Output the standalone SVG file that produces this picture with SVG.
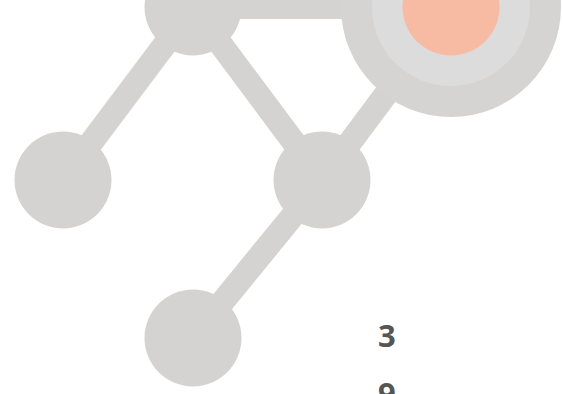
<svg xmlns="http://www.w3.org/2000/svg" width="563" height="394" viewBox="0 0 563 394">
<style>
.edge{stroke:#d4d3d2;stroke-width:24;fill:none}
.node{fill:#d4d3d2}
.lbl{font-family:"Open Sans","Liberation Sans",sans-serif;font-weight:700;font-size:31px;fill:#555555}
</style>
<rect width="563" height="394" fill="#ffffff"/>
<g id="connectors">
<line class="edge" x1="193" y1="7" x2="451" y2="7"/>
<line class="edge" x1="63" y1="180" x2="193" y2="7"/>
<line class="edge" x1="193" y1="7" x2="322" y2="180"/>
<line class="edge" x1="322" y1="180" x2="451" y2="7"/>
<line class="edge" x1="322" y1="180" x2="193" y2="338"/>
</g>
<g id="node-hub">
<circle cx="451" cy="7" r="110" fill="#d5d4d3"/>
<circle cx="451" cy="7" r="79" fill="#dcdcdc"/>
<circle cx="451" cy="7" r="48.5" fill="#f7bba4"/>
</g>
<g id="node-top"><circle class="node" cx="193" cy="7" r="48.5"/></g>
<g id="node-left"><circle class="node" cx="63" cy="180" r="48.5"/></g>
<g id="node-middle"><circle class="node" cx="322" cy="180" r="48.5"/></g>
<g id="node-bottom"><circle class="node" cx="193" cy="338" r="48.5"/></g>
<g id="labels">
<text class="lbl" x="378" y="347">3</text>
<text class="lbl" x="378" y="405">9</text>
</g>
</svg>
